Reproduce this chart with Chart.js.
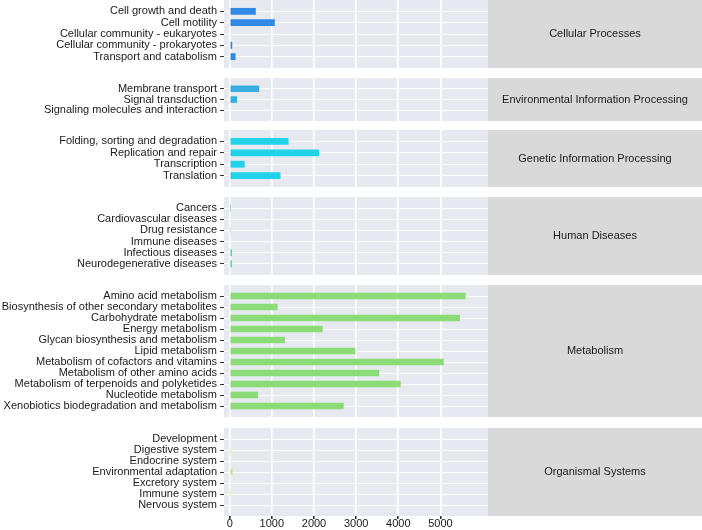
<!DOCTYPE html>
<html>
<head>
<meta charset="utf-8">
<script src="https://cdn.jsdelivr.net/npm/chart.js@4/dist/chart.umd.min.js"></script>
<style>
    body { margin: 0; background: #ffffff; }
    #wrap { position: relative; width: 702px; height: 530px; overflow: hidden; }
    #wrap canvas { position: absolute; left: 0; }
</style>
</head>
<body>
<div id="wrap"></div>
<script>
// KEGG level-1 groups (facet strips)
const groups = [
    "Cellular Processes",
    "Environmental Information Processing",
    "Genetic Information Processing",
    "Human Diseases",
    "Metabolism",
    "Organismal Systems"
];

// level-2 pathways and their counts, per group
const cellularLabels = ["Cell growth and death", "Cell motility", "Cellular community - eukaryotes",
    "Cellular community - prokaryotes", "Transport and catabolism"];
const cellularValues = [620, 1070, 0, 60, 140];

const environmentalLabels = ["Membrane transport", "Signal transduction", "Signaling molecules and interaction"];
const environmentalValues = [700, 175, 0];

const geneticLabels = ["Folding, sorting and degradation", "Replication and repair", "Transcription", "Translation"];
const geneticValues = [1395, 2120, 355, 1205];

const humanLabels = ["Cancers", "Cardiovascular diseases", "Drug resistance", "Immune diseases",
    "Infectious diseases", "Neurodegenerative diseases"];
const humanValues = [5, 0, 12, 0, 50, 50];

const metabolismLabels = ["Amino acid metabolism", "Biosynthesis of other secondary metabolites",
    "Carbohydrate metabolism", "Energy metabolism", "Glycan biosynthesis and metabolism", "Lipid metabolism",
    "Metabolism of cofactors and vitamins", "Metabolism of other amino acids",
    "Metabolism of terpenoids and polyketides", "Nucleotide metabolism",
    "Xenobiotics biodegradation and metabolism"];
const metabolismValues = [5600, 1135, 5460, 2205, 1310, 2980, 5080, 3545, 4058, 670, 2705];

const organismalLabels = ["Development", "Digestive system", "Endocrine system", "Environmental adaptation",
    "Excretory system", "Immune system", "Nervous system"];
const organismalValues = [0, 5, 20, 65, 0, 5, 0];

const xTicks = [0, 1000, 2000, 3000, 4000, 5000];

const allLabels = [cellularLabels, environmentalLabels, geneticLabels, humanLabels, metabolismLabels, organismalLabels];
const allValues = [cellularValues, environmentalValues, geneticValues, humanValues, metabolismValues, organismalValues];

// styling / layout
const barColors = ["#3089e6", "#3aade3", "#20d3e8", "#2fd29c", "#8bdb76", "#c4e86b"];
const panelTops = [0, 78, 130, 197, 285, 428];
const panelHeights = [68, 43, 57, 78, 132, 88];
const PANEL_LEFT = 224;
const PANEL_RIGHT = 488;
const WIDTH = 702;
const X_AXIS_HEIGHT = 14;
const X_MIN = -135;
const X_MAX = 6128;
const FONT = { family: "'Liberation Sans', Arial, sans-serif", size: 11 };
const TEXT_COLOR = "#1a1a1a";

const panelPlugin = {
    id: "panelPlugin",
    beforeDraw(chart, args, opts)
    {
        const { ctx, chartArea } = chart;
        ctx.save();
        ctx.fillStyle = "#e6eaf0"; // panel background
        ctx.fillRect(chartArea.left, chartArea.top, chartArea.right - chartArea.left, chartArea.bottom - chartArea.top);

        // facet strip on the right
        ctx.fillStyle = "#d9d9d9";
        ctx.fillRect(chartArea.right, chartArea.top, WIDTH - chartArea.right, chartArea.bottom - chartArea.top);
        ctx.fillStyle = TEXT_COLOR;
        ctx.font = FONT.size + "px " + FONT.family;
        ctx.textAlign = "center";
        ctx.textBaseline = "middle";
        ctx.fillText(opts.title, (chartArea.right + WIDTH) / 2, (chartArea.top + chartArea.bottom) / 2);
        ctx.restore();
    }
};

// keep the chart area glued to the canvas edges
function noPadding(axis)
{
    axis.paddingTop = 0;
    axis.paddingBottom = 0;
    axis.paddingLeft = 0;
    axis.paddingRight = 0;
}

const wrap = document.getElementById("wrap");

groups.forEach(function (group, i)
{
    const labels = allLabels[i];
    const values = allValues[i];
    const isLast = i === groups.length - 1;

    const canvas = document.createElement("canvas");
    canvas.width = WIDTH;
    canvas.height = panelHeights[i] + (isLast ? X_AXIS_HEIGHT : 0);
    canvas.style.top = panelTops[i] + "px";
    wrap.appendChild(canvas);

    new Chart(canvas.getContext("2d"), {
        type: "bar",
        data: {
            datasets: [{
                data: values.map((v, k) => ({ x: v, y: k })),
                backgroundColor: barColors[i],
                borderWidth: 0,
                barPercentage: 0.6,
                categoryPercentage: 1
            }]
        },
        plugins: [panelPlugin],
        options: {
            indexAxis: "y",
            responsive: false,
            animation: false,
            devicePixelRatio: 1,
            layout: { padding: { left: 0, right: WIDTH - PANEL_RIGHT, top: 0, bottom: 0 } },
            plugins: {
                legend: { display: false },
                tooltip: { enabled: false },
                panelPlugin: { title: group }
            },
            scales: {
                x: {
                    type: "linear",
                    min: X_MIN,
                    max: X_MAX,
                    offset: false,
                    afterBuildTicks: (axis) => { axis.ticks = xTicks.map(v => ({ value: v })); },
                    afterFit: (axis) => { axis.height = isLast ? X_AXIS_HEIGHT : 0; noPadding(axis); },
                    border: { display: false },
                    grid: { offset: false, color: "#ffffff", lineWidth: 1.6, drawTicks: isLast, tickLength: 3, tickColor: "#333333" },
                    ticks: {
                        display: isLast,
                        callback: (v) => String(v),
                        font: FONT,
                        color: TEXT_COLOR,
                        padding: -2,
                        maxRotation: 0,
                        autoSkip: false
                    }
                },
                y: {
                    type: "linear",
                    reverse: true,
                    min: -1,
                    max: labels.length,
                    offset: false,
                    afterBuildTicks: (axis) => { axis.ticks = labels.map((_, k) => ({ value: k })); },
                    afterFit: (axis) => { axis.width = PANEL_LEFT; noPadding(axis); },
                    border: { display: false },
                    grid: { offset: false, color: "#ffffff", lineWidth: 1, tickLength: 4, tickColor: "#333333" },
                    ticks: {
                        callback: (v) => labels[v],
                        font: FONT,
                        color: TEXT_COLOR,
                        padding: 3,
                        autoSkip: false
                    }
                }
            }
        }
    });
});
</script>
</body>
</html>
